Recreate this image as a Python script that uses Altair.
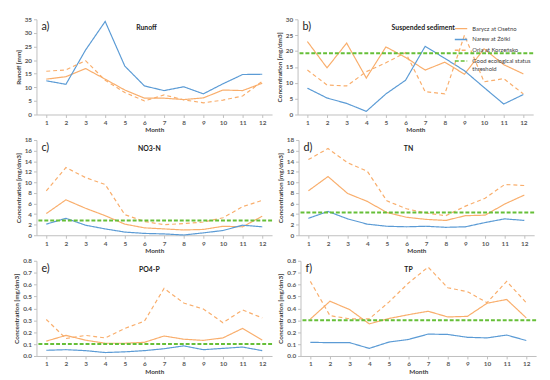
import altair as alt
import pandas as pd

months = list(range(1, 13))
series_names = ["Barycz at Osetno", "Narew at Żółki", "Orla at Korzeńsko"]
threshold_name = "Good ecological status threshold"

# a) Runoff [mm]
runoff_barycz = [13.0, 13.9, 16.9, 13.0, 9.0, 6.0, 6.0, 5.5, 6.1, 9.0, 8.8, 11.5]
runoff_narew = [12.4, 11.1, 23.7, 34.2, 17.8, 10.5, 8.8, 10.2, 7.6, 11.3, 14.7, 14.8]
runoff_orla = [15.9, 16.4, 19.8, 12.6, 8.1, 5.0, 7.2, 5.4, 4.3, 5.3, 6.8, 12.2]

# b) Suspended sediment
ss_barycz = [23.0, 14.7, 22.5, 11.5, 21.3, 18.0, 14.0, 16.5, 12.7, 20.7, 15.7, 12.8]
ss_narew = [8.3, 5.2, 3.5, 1.0, 6.5, 10.8, 21.5, 17.7, 13.8, 8.5, 3.3, 6.3]
ss_orla = [14.0, 9.3, 9.0, 13.5, 16.3, 19.5, 7.2, 6.5, 25.0, 10.3, 11.3, 6.5]
ss_threshold = 19.3

# c) NO3-N
no3_barycz = [4.1, 6.7, 5.1, 3.7, 2.1, 1.4, 1.2, 1.0, 1.1, 1.7, 1.6, 3.6]
no3_narew = [2.1, 3.2, 1.9, 1.2, 0.6, 0.35, 0.25, 0.05, 0.45, 0.9, 1.9, 1.6]
no3_orla = [8.4, 12.8, 10.9, 9.6, 3.9, 2.6, 2.0, 2.2, 2.5, 3.3, 5.4, 6.6]
no3_threshold = 2.8

# d) TN
tn_barycz = [8.4, 11.1, 7.9, 6.4, 4.3, 3.4, 3.0, 2.8, 3.7, 3.8, 5.9, 7.6]
tn_narew = [3.2, 4.5, 3.1, 2.1, 1.7, 1.6, 1.7, 1.5, 1.6, 2.4, 3.1, 2.8]
tn_orla = [14.3, 16.4, 13.7, 12.1, 6.5, 5.0, 4.2, 3.7, 5.5, 7.0, 9.6, 9.4]
tn_threshold = 4.3

# e) PO4-P
po4_barycz = [0.125, 0.173, 0.133, 0.107, 0.107, 0.115, 0.168, 0.141, 0.131, 0.152, 0.232, 0.133]
po4_narew = [0.048, 0.053, 0.045, 0.029, 0.035, 0.045, 0.061, 0.085, 0.053, 0.064, 0.075, 0.045]
po4_orla = [0.307, 0.147, 0.173, 0.152, 0.232, 0.293, 0.568, 0.445, 0.395, 0.28, 0.387, 0.32]
po4_threshold = 0.1

# f) TP
tp_barycz = [0.31, 0.46, 0.39, 0.27, 0.315, 0.347, 0.376, 0.328, 0.333, 0.443, 0.475, 0.32]
tp_narew = [0.115, 0.112, 0.112, 0.064, 0.117, 0.139, 0.184, 0.181, 0.157, 0.152, 0.176, 0.13]
tp_orla = [0.627, 0.339, 0.312, 0.312, 0.453, 0.613, 0.747, 0.573, 0.541, 0.448, 0.627, 0.448]
tp_threshold = 0.3

panels = [
    dict(letter="a)", title="Runoff", ytitle="Runoff [mm]", ymax=35, step=5, fmt="d",
         thr=None, vals=(runoff_barycz, runoff_narew, runoff_orla), tx=112),
    dict(letter="b)", title="Suspended sediment", ytitle="Concentration [mg/dm3]", ymax=30, step=5, fmt="d",
         thr=ss_threshold, vals=(ss_barycz, ss_narew, ss_orla), tx=128),
    dict(letter="c)", title="NO3-N", ytitle="Concentration [mg/dm3]", ymax=18, step=2, fmt="d",
         thr=no3_threshold, vals=(no3_barycz, no3_narew, no3_orla), tx=115),
    dict(letter="d)", title="TN", ytitle="Concentration [mg/dm3]", ymax=18, step=2, fmt="d",
         thr=tn_threshold, vals=(tn_barycz, tn_narew, tn_orla), tx=112),
    dict(letter="e)", title="PO4-P", ytitle="Concentration [mg/dm3]", ymax=0.8, step=0.1, fmt=".1f",
         thr=po4_threshold, vals=(po4_barycz, po4_narew, po4_orla), tx=115),
    dict(letter="f)", title="TP", ytitle="Concentration [mg/dm3]", ymax=0.8, step=0.1, fmt=".1f",
         thr=tp_threshold, vals=(tp_barycz, tp_narew, tp_orla), tx=110),
]

ORANGE = "#F9AE6C"
BLUE = "#5B9BD5"
GREEN = "#66BF38"
color_scale = alt.Scale(domain=series_names + [threshold_name],
                        range=[ORANGE, BLUE, ORANGE, GREEN])
dash_scale = alt.Scale(domain=series_names + [threshold_name],
                       range=[[1, 0], [1, 0], [4, 3], [4, 2]])

W, H = 240, 97
FONT = "Lato"


def make_panel(p, show_legend):
    rows = []
    for name, vals in zip(series_names, p["vals"]):
        for m, v in zip(months, vals):
            rows.append({"Month": m, "Value": v, "Series": name})
    df = pd.DataFrame(rows)
    n = int(round(p["ymax"] / p["step"]))
    ticks = [round(i * p["step"], 3) for i in range(n + 1)]
    legend = None
    if show_legend:
        legend = alt.Legend(
            title=None, orient="top-right", offset=2, symbolType="stroke",
            symbolSize=160, symbolStrokeWidth=1.5, labelFontSize=6, labelFont=FONT,
            labelColor="#404040", rowPadding=0, padding=0, labelLimit=200,
            labelExpr="datum.label == 'Good ecological status threshold' ? ['Good ecological status', 'threshold'] : datum.label",
        )
    x = alt.X("Month:O", scale=alt.Scale(type="point", padding=0.5),
              axis=alt.Axis(labelAngle=0, title="Month"))
    y = alt.Y("Value:Q", scale=alt.Scale(domain=[0, p["ymax"]], nice=False, zero=True),
              axis=alt.Axis(values=ticks, format=p["fmt"], title=p["ytitle"],
                            labelOverlap=False, labelFlush=False, tickCount=n + 1))
    lines = alt.Chart(df).mark_line(strokeWidth=1.2).encode(
        x=x, y=y,
        color=alt.Color("Series:N", scale=color_scale, legend=legend),
        strokeDash=alt.StrokeDash("Series:N", scale=dash_scale, legend=legend),
    )
    layers = [lines]
    if p["thr"] is not None:
        tdf = pd.DataFrame({"Value": [p["thr"]], "Series": [threshold_name]})
        rule = alt.Chart(tdf).mark_rule(strokeWidth=2).encode(
            y="Value:Q",
            color=alt.Color("Series:N", scale=color_scale, legend=legend),
            strokeDash=alt.StrokeDash("Series:N", scale=dash_scale, legend=legend),
        )
        layers.append(rule)
    one = pd.DataFrame({"k": [0]})
    letter = alt.Chart(one).mark_text(align="left", baseline="middle", fontSize=11, font=FONT,
                                      color="#222222").encode(
        x=alt.value(5), y=alt.value(8), text=alt.value(p["letter"]))
    title = alt.Chart(one).mark_text(align="center", baseline="middle", fontSize=7, fontWeight="bold",
                                     font=FONT, color="#222222").encode(
        x=alt.value(p["tx"]), y=alt.value(9), text=alt.value(p["title"]))
    layers += [letter, title]
    return alt.layer(*layers).properties(width=W, height=H)


charts = [make_panel(p, i == 1) for i, p in enumerate(panels)]

res = dict(color="independent", strokeDash="independent", x="independent", y="independent")
row1 = alt.hconcat(charts[0], charts[1], spacing=4).resolve_scale(**res)
row2 = alt.hconcat(charts[2], charts[3], spacing=4).resolve_scale(**res)
row3 = alt.hconcat(charts[4], charts[5], spacing=4).resolve_scale(**res)

chart = alt.vconcat(row1, row2, row3, spacing=4).resolve_scale(**res).configure_view(
    stroke=None
).configure_axis(
    grid=False, labelFont=FONT, titleFont=FONT, labelFontSize=6.5, titleFontSize=6.5,
    labelFontWeight="bold", titleFontWeight="bold", domainColor="#bfbfbf",
    tickColor="#bfbfbf", tickSize=3, labelColor="#595959", titleColor="#404040",
    labelPadding=2, titlePadding=3,
).configure_axisY(domain=True, ticks=True).configure_axisX(titlePadding=1)

chart.save("out.html", embed_options={"renderer": "svg", "actions": False})
